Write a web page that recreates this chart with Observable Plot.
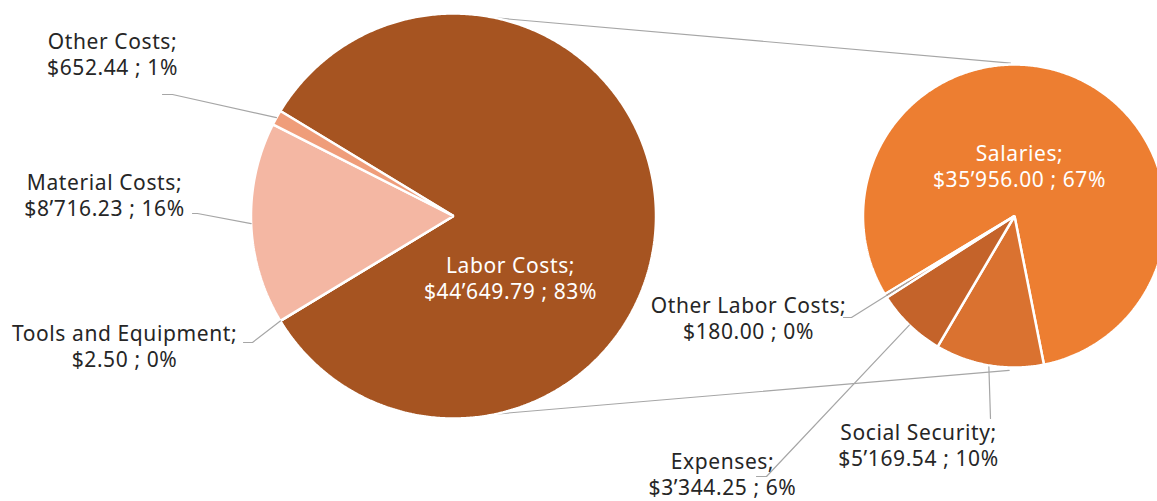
<!DOCTYPE html>
<html>
<head>
<meta charset="utf-8">
<script src="https://cdn.jsdelivr.net/npm/d3@7"></script>
<script src="https://cdn.jsdelivr.net/npm/@observablehq/plot@0.6"></script>
<style>
  html, body { margin: 0; padding: 0; background: #fff; }
  #chart svg { display: block; }
  #chart text { letter-spacing: 0.6px; }
</style>
</head>
<body>
<div id="chart"></div>
<script>
// ---------- data ----------
const mainCategories = ["Labor Costs", "Tools and Equipment", "Material Costs", "Other Costs"];
const mainValues = [44649.79, 2.50, 8716.23, 652.44];
const mainColors = ["#A65421", "#F8CBAD", "#F4B7A3", "#EF9D7A"];

const subCategories = ["Salaries", "Social Security", "Expenses", "Other Labor Costs"];
const subValues = [35956.00, 5169.54, 3344.25, 180.00];
const subColors = ["#ED7E31", "#DA7230", "#C4632A", "#B85A28"];

// ---------- layout ----------
const W = 1157, H = 501;
const deg = Math.PI / 180;
const mainPie = {cx: 453, cy: 215.5, r: 202.5};
const subPie = {cx: 1014, cy: 215.5, r: 151.5};
const subStart = 238.9 * deg;

const total = d3.sum(mainValues);
const loc = d3.formatLocale({decimal: ".", thousands: "\u2019", grouping: [3], currency: ["$", ""]});
const money = loc.format("$,.2f");
const pct = v => Math.round(v / total * 100) + "%";

function slices(names, values, colors, start, pie) {
  const arcs = d3.pie().sort(null).value(d => d).startAngle(start).endAngle(start + 2 * Math.PI)(values);
  return arcs.map((a, i) => ({name: names[i], value: values[i], color: colors[i], a0: a.startAngle, a1: a.endAngle, mid: (a.startAngle + a.endAngle) / 2, pie}));
}
const pt = (pie, a, k = 1) => ({x: pie.cx + pie.r * k * Math.sin(a), y: pie.cy - pie.r * k * Math.cos(a)});

const laborAngle = 2 * Math.PI * mainValues[0] / total;
const mainSlices = slices(mainCategories, mainValues, mainColors, Math.PI / 2 - laborAngle / 2, mainPie);
const subSlices = slices(subCategories, subValues, subColors, subStart, subPie);
const allSlices = [...mainSlices, ...subSlices];

// polygon points for each slice
const polyPts = allSlices.flatMap(s => {
  const n = Math.max(2, Math.ceil((s.a1 - s.a0) / (0.5 * deg)));
  const pts = [{name: s.name, x: s.pie.cx, y: s.pie.cy}];
  for (let j = 0; j <= n; j++) {
    const p = pt(s.pie, s.a0 + (s.a1 - s.a0) * j / n);
    pts.push({name: s.name, ...p});
  }
  return pts;
});

// label placement (layout only)
const labelLayout = {
  "Other Costs":        {x: 112, y: 53,  fill: "#262626", leader: [[162, 94], [172, 94]], k: 1},
  "Material Costs":     {x: 104, y: 194, fill: "#262626", leader: [[192, 213], [197, 213]], k: 1},
  "Tools and Equipment":{x: 124, y: 345, fill: "#262626", leader: [[243, 342], [252, 342]], k: 1},
  "Labor Costs":        {x: 510, y: 277, fill: "#fff"},
  "Salaries":           {x: 1019, y: 165, fill: "#fff"},
  "Other Labor Costs":  {x: 748, y: 317, fill: "#262626", leader: [[843, 317], [851, 317]], k: 0.82},
  "Expenses":           {x: 722, y: 473, fill: "#262626", leader: [[756, 476], [766, 476]], k: 1},
  "Social Security":    {x: 918, y: 444, fill: "#262626", leader: [[990, 418]], k: 1.01}
};

const labels = allSlices.map(s => ({
  ...labelLayout[s.name],
  text: `${s.name};\n${money(s.value)} ; ${pct(s.value)}`
}));

const leaders = allSlices.filter(s => labelLayout[s.name].leader).flatMap(s => {
  const L = labelLayout[s.name];
  const end = pt(s.pie, s.mid, L.k);
  return [...L.leader.map(([x, y]) => ({id: s.name, x, y})), {id: s.name, ...end}];
});

// connector lines between the pies
const connectors = [
  {id: "top", ...pt(mainPie, 12 * deg, 1.0)}, {id: "top", ...pt(subPie, -1.5 * deg, 1.01)},
  {id: "bottom", ...pt(mainPie, 168 * deg, 1.0)}, {id: "bottom", ...pt(subPie, 182 * deg, 1.02)}
];

const chart = Plot.plot({
  width: W, height: H, margin: 0,
  style: {fontFamily: "'Noto Sans', sans-serif", background: "#fff"},
  x: {domain: [0, W], range: [0, W], axis: null},
  y: {domain: [0, H], range: [0, H], axis: null},
  color: {domain: allSlices.map(s => s.name), range: allSlices.map(s => s.color)},
  marks: [
    Plot.line(connectors, {x: "x", y: "y", z: "id", stroke: "#A6A6A6", strokeWidth: 1.2}),
    Plot.line(polyPts, {x: "x", y: "y", z: "name", fill: "name", stroke: "white", strokeWidth: 2.5, strokeLinejoin: "miter", curve: "linear-closed"}),
    Plot.line(leaders, {x: "x", y: "y", z: "id", stroke: "#A6A6A6", strokeWidth: 1.2}),
    Plot.text(labels, {x: "x", y: "y", text: "text", fill: "fill", fontSize: 21, lineHeight: 1.25, textAnchor: "middle"})
  ]
});
document.getElementById("chart").appendChild(chart);
</script>
</body>
</html>
